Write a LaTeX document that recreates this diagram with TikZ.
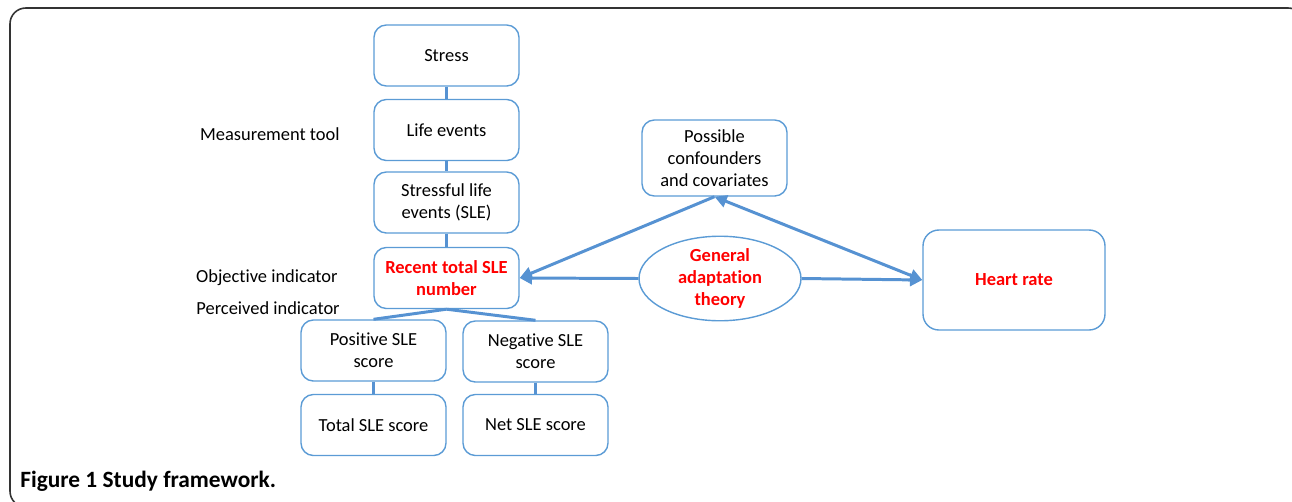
\documentclass[tikz,border=0pt]{standalone}
\usepackage{fontspec}
\setmainfont[Ligatures=NoCommon]{Carlito}
\usepackage[dvipsnames]{xcolor}
\usetikzlibrary{positioning, shapes.geometric, arrows.meta}

\definecolor{boxblue}{RGB}{91,155,213}
\definecolor{lineblue}{RGB}{86,146,210}
\definecolor{hotred}{RGB}{255,0,0}

\tikzset{
    sbox/.style={draw=boxblue, line width=0.8pt, rounded corners=7pt, minimum width=2.9cm, minimum height=1.22cm, align=center, inner sep=2pt, font=\fontsize{10.5}{12.5}\selectfont},
    redtext/.style={text=hotred, font=\fontsize{10.5}{12.5}\selectfont\bfseries},
    link/.style={lineblue, line width=1.7pt},
    sidelabel/.style={anchor=east, inner sep=0pt, font=\fontsize{10.5}{12.5}\selectfont},
}

\begin{document}
\begin{tikzpicture}[x=0.02cm, y=-0.02cm]
            \useasboundingbox (0,0) rectangle (1292,501);
            \draw[black!80, line width=0.9pt, rounded corners=9pt] (10,8) rectangle (1304,507);

            % the chain on the left
            \node[sbox] (stress) at (446.5,55.5) {Stress};
            \node[sbox] (life) at (446.5,130) {Life events};
            \node[sbox] (sle) at (446.5,202.5) {Stressful life\\events (SLE)};
            \node[sbox, redtext] (recent) at (446.5,278) {Recent total SLE\\number};
            \node[sbox] (pos) at (373.5,350.5) {Positive SLE\\score};
            \node[sbox] (neg) at (535.5,351.5) {Negative SLE\\score};
            \node[sbox] (total) at (373.5,425) {Total SLE score};
            \node[sbox] (net) at (535.5,425) {Net SLE score};

            \node[sidelabel] (tool) at (340,134) {Measurement tool};
            \node[sidelabel] (objective) at (338,278) {Objective indicator};
            \node[sidelabel] (perceived) at (340,308) {Perceived indicator};

            % right part
            \node[sbox, minimum height=1.52cm] (conf) at (714.5,158) {Possible\\confounders\\and covariates};
            \node[ellipse, draw=boxblue, line width=0.8pt, minimum width=3.24cm, minimum height=1.54cm, inner sep=0pt, align=center, redtext] (gat) at (720,278.5) {General\\adaptation\\theory};
            \node[sbox, redtext, minimum width=3.64cm, minimum height=2cm, rounded corners=9pt] (heart) at (1014,280) {Heart rate};

            \draw[link] (stress) -- (life);
            \draw[link] (life) -- (sle);
            \draw[link] (sle) -- (recent);
            \draw[link] (recent.south) -- (pos.north);
            \draw[link] (recent.south) -- (neg.north);
            \draw[link] (pos) -- (total);
            \draw[link] (neg) -- (net);

            \draw[link, -{Triangle[length=7pt, width=7pt]}] (gat.west) -- (recent.east);
            \draw[link, -{Triangle[length=7pt, width=7pt]}] (gat.east) -- (heart.west);
            \draw[link, -{Triangle[length=7pt, width=7pt]}] (conf.south) -- (recent.east);
            \draw[link, {Triangle[length=7pt, width=7pt]}-{Triangle[length=7pt, width=7pt]}] (conf.south) -- (heart.west);

            \node[anchor=west, inner sep=0pt, font=\fontsize{13.3}{15}\selectfont\bfseries] (caption) at (20,481) {Figure 1 Study framework.};
        \end{tikzpicture}
\end{document}
